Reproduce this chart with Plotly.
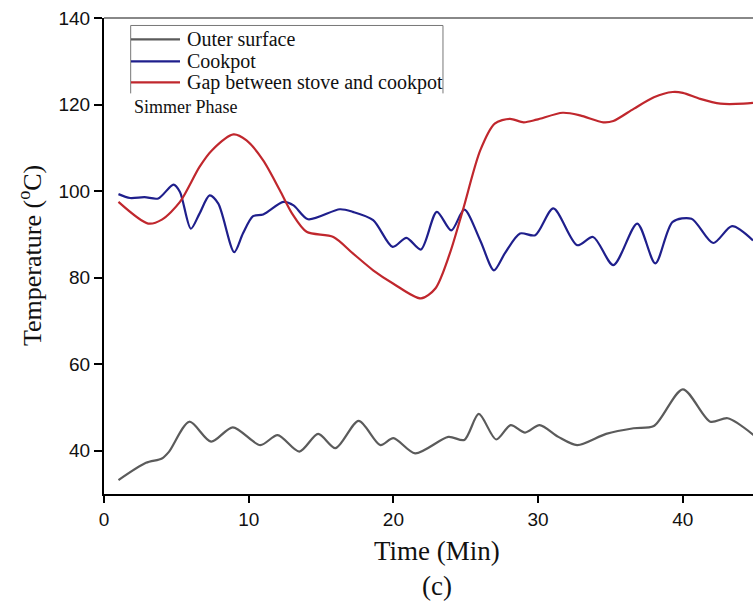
import plotly.graph_objects as go

# Outer surface (grey)
outer_t = [1.0, 2.9, 4.0, 4.5, 5.9, 7.4, 8.9, 10.8, 12.0, 13.5, 14.8, 16.0, 17.6, 19.1, 20.0,
           21.5, 23.8, 24.9, 25.9, 27.1, 28.1, 29.1, 30.1, 31.4, 32.7, 34.7, 36.6, 38.0, 40.0,
           41.9, 43.1, 44.9]
outer_T = [33.2, 37.2, 38.2, 39.8, 46.7, 42.1, 45.4, 41.3, 43.6, 39.8, 43.9, 40.6, 46.9, 41.3, 42.9,
           39.4, 43.2, 42.5, 48.5, 42.6, 45.9, 44.2, 45.9, 43.2, 41.3, 43.9, 45.2, 45.7, 54.2,
           46.7, 47.5, 43.6]

# Cookpot (blue)
cook_t = [1.0, 1.8, 2.8, 3.75, 4.8, 5.25, 6.0, 6.6, 7.3, 7.9, 9.0, 9.6, 10.3, 11.0, 12.4, 13.1,
          14.1, 16.3, 17.2, 18.6, 19.95, 20.9, 21.9, 23.0, 24.0, 24.9, 26.0, 26.95, 27.7, 28.75,
          29.8, 31.05, 32.7, 33.8, 35.2, 36.85, 38.1, 39.3, 40.6, 42.1, 43.4, 44.85]
cook_T = [99.3, 98.4, 98.6, 98.3, 101.5, 99.8, 91.3, 94.8, 99.0, 97.1, 85.9, 90.2, 94.2, 94.6,
          97.5, 96.7, 93.5, 95.8, 95.2, 93.3, 87.1, 89.2, 86.5, 95.2, 90.9, 95.7, 88.6, 81.7, 85.6,
          90.2, 89.8, 96.0, 87.5, 89.4, 82.9, 92.5, 83.3, 92.9, 93.6, 88.0, 91.9, 88.6]

# Gap between stove and cookpot (red)
gap_t = [1.0, 3.05, 4.0, 5.25, 6.6, 7.45, 8.95, 9.85, 11.0, 12.15, 13.0, 14.0, 15.85, 17.2, 18.6,
         20.0, 21.9, 22.9, 23.9, 24.8, 26.0, 27.0, 28.05, 29.0, 29.9, 31.7, 32.9, 34.5, 35.2,
         36.6, 38.0, 39.3, 40.0, 41.2, 42.6, 44.2, 44.85]
gap_T = [97.5, 92.5, 93.4, 97.5, 105.6, 109.4, 113.1, 111.7, 107.1, 100.2, 94.8, 90.6, 89.4, 85.6,
         81.7, 78.6, 75.2, 77.5, 85.6, 95.6, 109.4, 115.6, 116.7, 115.9, 116.5, 118.1, 117.5,
         115.9, 116.2, 119.0, 121.7, 122.9, 122.7, 121.3, 120.2, 120.2, 120.4]

series_names = ["Outer surface", "Cookpot", "Gap between stove and cookpot"]
series_colors = ["#5b5b5b", "#1f1f8c", "#c0272d"]

y_ticks = [40, 60, 80, 100, 120, 140]
x_ticks = [0, 10, 20, 30, 40]

serif = "Liberation Serif, Times New Roman, serif"
sans = "Liberation Sans, Arial, sans-serif"

fig = go.Figure()
for tt, vv, nm, col in zip([outer_t, cook_t, gap_t], [outer_T, cook_T, gap_T],
                           series_names, series_colors):
    fig.add_trace(go.Scatter(x=tt, y=vv, mode="lines", name=nm, showlegend=False,
                             line=dict(color=col, width=2.2, shape="spline", smoothing=0.8)))

# hand-drawn legend box (open at the bottom, as in the reference)
box_l, box_r, box_t, box_b = 0.0411, 0.5223, 0.9843, 0.8416
shapes = [
    dict(type="line", xref="paper", yref="paper", x0=0, x1=1, y0=1, y1=1,
         line=dict(color="#888888", width=2)),
    dict(type="line", xref="paper", yref="paper", x0=box_l, x1=box_r, y0=box_t, y1=box_t,
         line=dict(color="#777777", width=1)),
    dict(type="line", xref="paper", yref="paper", x0=box_l, x1=box_l, y0=box_t, y1=box_b,
         line=dict(color="#777777", width=1)),
    dict(type="line", xref="paper", yref="paper", x0=box_r, x1=box_r, y0=box_t, y1=box_b,
         line=dict(color="#777777", width=1)),
]
annotations = []
item_y = [0.9549, 0.9087, 0.8646]
for yy, nm, col in zip(item_y, series_names, series_colors):
    shapes.append(dict(type="line", xref="paper", yref="paper", x0=0.0416, x1=0.1171,
                       y0=yy, y1=yy, line=dict(color=col, width=2.2)))
    annotations.append(dict(text=nm, xref="paper", yref="paper", x=0.1248, y=yy,
                            xanchor="left", yanchor="middle", showarrow=False,
                            font=dict(family=serif, size=20, color="#111111")))

annotations += [
    dict(text="Simmer Phase", xref="paper", yref="paper", x=0.0431, y=0.8122,
         xanchor="left", yanchor="middle", showarrow=False,
         font=dict(family=serif, size=18, color="#111111")),
    dict(text="Time (Min)", xref="paper", yref="paper", x=0.513, y=-0.12,
         xanchor="center", yanchor="middle", showarrow=False,
         font=dict(family=serif, size=27, color="#111111")),
    dict(text="(c)", xref="paper", yref="paper", x=0.513, y=-0.193,
         xanchor="center", yanchor="middle", showarrow=False,
         font=dict(family=serif, size=27, color="#111111")),
    dict(text="Temperature (<sup>o</sup>C)", xref="paper", yref="paper", x=-0.114, y=0.5,
         xanchor="center", yanchor="middle", textangle=-90, showarrow=False,
         font=dict(family=serif, size=26, color="#111111")),
]

fig.update_layout(
    width=753, height=603,
    margin=dict(l=104, r=0, t=17.5, b=109),
    paper_bgcolor="white", plot_bgcolor="white",
    showlegend=False,
    xaxis=dict(range=[0, 44.85], tickvals=x_ticks, ticks="outside", ticklen=7, tickwidth=2,
               tickcolor="black", showline=True, linecolor="black", linewidth=2,
               showgrid=False, zeroline=False,
               tickfont=dict(family=sans, size=19, color="#111111")),
    yaxis=dict(range=[30, 140], tickvals=y_ticks, ticks="outside", ticklen=8, tickwidth=2,
               tickcolor="black", showline=True, linecolor="black", linewidth=2,
               showgrid=False, zeroline=False,
               tickfont=dict(family=sans, size=19, color="#111111")),
    shapes=shapes,
    annotations=annotations,
)

fig.write_html("out.html")
